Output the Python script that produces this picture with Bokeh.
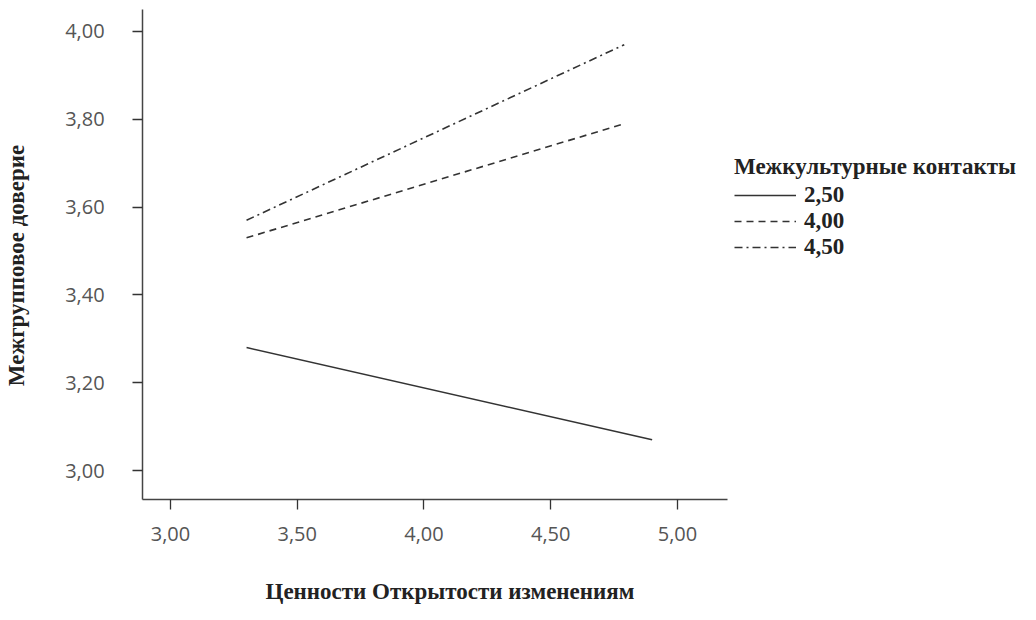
import math
from bokeh.plotting import figure
from bokeh.models import Range1d, Legend, LegendItem, FixedTicker, CustomJSTickFormatter, Label
from bokeh.embed import file_html
from bokeh.resources import INLINE

# Data
x_ticks = [3.0, 3.5, 4.0, 4.5, 5.0]
y_ticks = [3.0, 3.2, 3.4, 3.6, 3.8, 4.0]
series_labels = ["2,50", "4,00", "4,50"]
x_low = [3.30, 3.30, 3.30]
x_high = [4.90, 4.79, 4.79]
y_low = [3.28, 3.53, 3.57]
y_high = [3.07, 3.79, 3.97]
dashes = ["solid", "7 5", "8 4 2 4"]
x_axis_bounds = (2.89, 5.197)
y_axis_bounds = (2.934, 4.05)

p = figure(width=1020, height=604, output_backend="svg", toolbar_location=None,
           x_range=Range1d(2.3294, 6.3531), y_range=Range1d(2.6948, 4.0706),
           min_border_left=0, min_border_right=0, min_border_top=0, min_border_bottom=0)
p.outline_line_color = None
p.grid.visible = False
p.background_fill_color = "white"

renderers = []
for i in range(3):
    r = p.line([x_low[i], x_high[i]], [y_low[i], y_high[i]], line_color="#333333",
               line_width=1.6, line_dash=dashes[i])
    renderers.append(r)

fmt = CustomJSTickFormatter(code="return tick.toFixed(2).replace('.', ',');")
for ax, ticks in ((p.xaxis[0], x_ticks), (p.yaxis[0], y_ticks)):
    ax.ticker = FixedTicker(ticks=ticks)
    ax.formatter = fmt
    ax.minor_tick_line_color = None
    ax.major_tick_in = 0
    ax.major_tick_out = 10
    ax.axis_line_color = "#444444"
    ax.axis_line_width = 1.5
    ax.major_tick_line_color = "#333333"
    ax.major_tick_line_width = 1.3
    ax.major_label_text_font = "Open Sans"
    ax.major_label_text_font_size = "20px"
    ax.major_label_text_color = "#555555"

p.xaxis.bounds = x_axis_bounds
p.xaxis.fixed_location = y_axis_bounds[0]
p.xaxis.major_label_standoff = 18
p.yaxis.bounds = y_axis_bounds
p.yaxis.fixed_location = x_axis_bounds[0]
p.yaxis.major_label_standoff = 28

title_style = dict(text_font="Liberation Serif", text_font_style="bold",
                   text_font_size="23px", text_color="#222222")
p.add_layout(Label(text="Ценности Открытости изменениям", x=265, y=13,
                   x_units="screen", y_units="screen", text_align="left",
                   text_baseline="alphabetic", **title_style))
p.add_layout(Label(text="Межгрупповое доверие", x=16, y=339,
                   x_units="screen", y_units="screen", angle=math.pi / 2,
                   text_align="center", text_baseline="middle", **title_style))

items = [LegendItem(label=series_labels[i], renderers=[renderers[i]]) for i in range(3)]
legend = Legend(items=items, location=(734, 344), title="Межкультурные контакты",
                glyph_width=62, glyph_height=26, label_standoff=8, spacing=0,
                padding=0, margin=0, border_line_color=None, background_fill_alpha=0,
                label_text_font="Liberation Serif", label_text_font_style="bold",
                label_text_font_size="23px", label_text_color="#222222",
                title_text_font="Liberation Serif", title_text_font_style="bold",
                title_text_font_size="23px", title_text_color="#222222",
                title_standoff=2)
p.add_layout(legend, "center")

open("out.html", "w").write(file_html(p, INLINE))
